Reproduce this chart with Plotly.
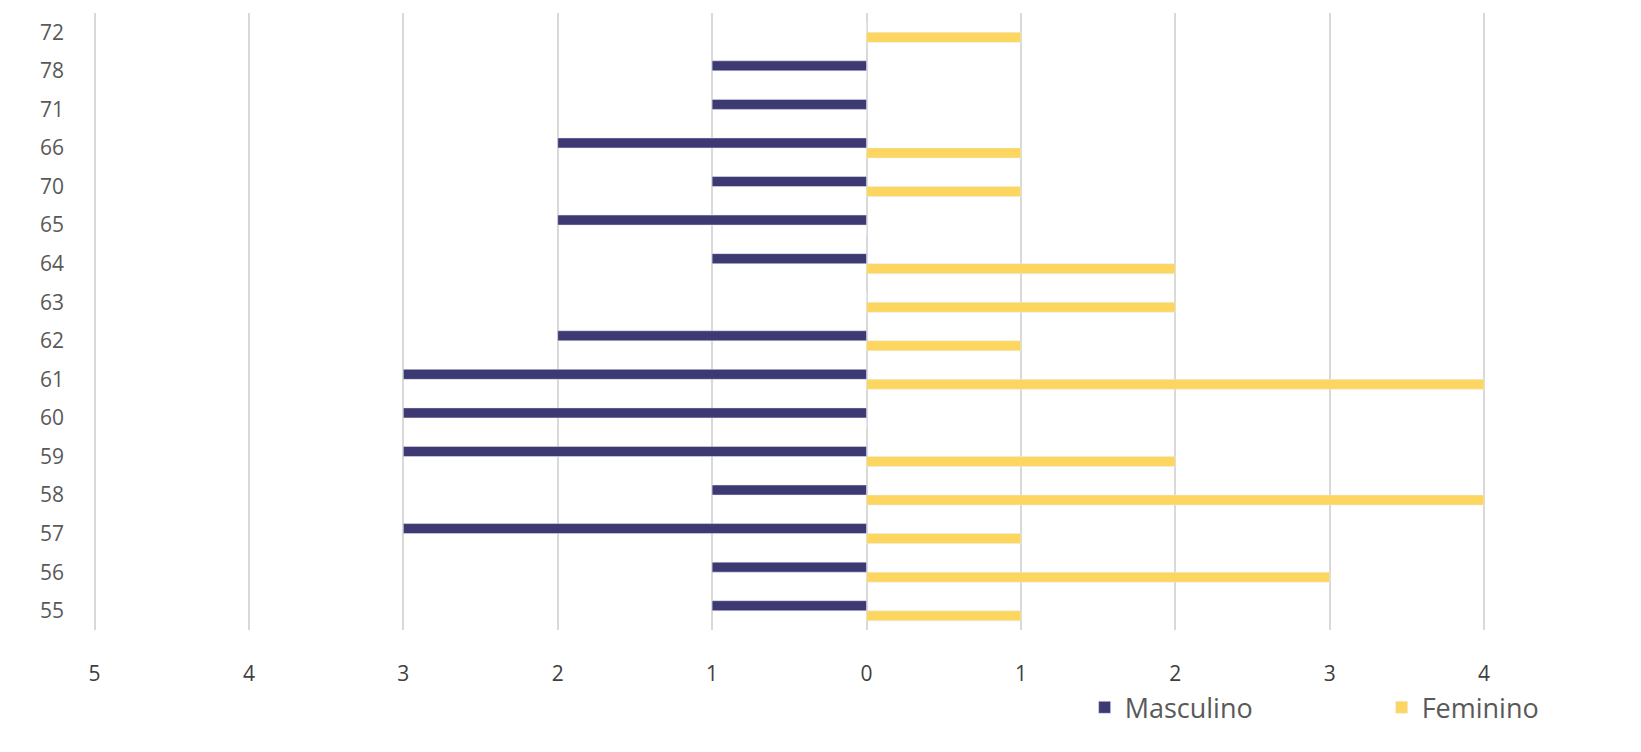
import plotly.graph_objects as go

ages = ["55", "56", "57", "58", "59", "60", "61", "62", "63", "64", "65", "70", "66", "71", "78", "72"]
masculino = [1, 1, 3, 1, 3, 3, 3, 2, 0, 1, 2, 1, 2, 1, 1, 0]
feminino = [1, 3, 1, 4, 2, 0, 4, 1, 2, 2, 0, 1, 1, 0, 0, 1]

tick_vals = [-5, -4, -3, -2, -1, 0, 1, 2, 3, 4, 5]
tick_text = ["5", "4", "3", "2", "1", "0", "1", "2", "3", "4", "5"]

fig = go.Figure()
# feminino first so it sits below masculino inside each group
fig.add_trace(go.Bar(y=ages, x=feminino, name="Feminino", orientation="h",
                     marker_color="#FDD660", legend="legend2"))
fig.add_trace(go.Bar(y=ages, x=[-v for v in masculino], name="Masculino", orientation="h",
                     marker_color="#3D3972", legend="legend"))

leg = dict(orientation="h", y=-0.126, xanchor="left", yanchor="middle",
           font=dict(size=27, color="#595959"), bgcolor="rgba(0,0,0,0)")

fig.update_layout(
    width=1641, height=752,
    barmode="group", bargap=0.48, bargroupgap=0,
    plot_bgcolor="white", paper_bgcolor="white",
    margin=dict(l=85, r=9, t=5, b=130),
    font=dict(family="Open Sans", size=20, color="#595959"),
    showlegend=True,
    legend=dict(leg, x=0.641),
    legend2=dict(leg, x=0.833),
)
fig.update_xaxes(range=[-5.01, 5.01], tickvals=tick_vals, ticktext=tick_text,
                 showgrid=True, gridcolor="#D9D9D9", gridwidth=1.5,
                 zeroline=True, zerolinecolor="#D9D9D9", zerolinewidth=1.5,
                 showline=False, ticklabelstandoff=29,
                 tickfont=dict(size=21, color="#404040"))
fig.update_yaxes(type="category", showgrid=False, showline=False, zeroline=False,
                 ticklabelstandoff=28, tickfont=dict(size=21, color="#595959"))

fig.write_html("out.html")
